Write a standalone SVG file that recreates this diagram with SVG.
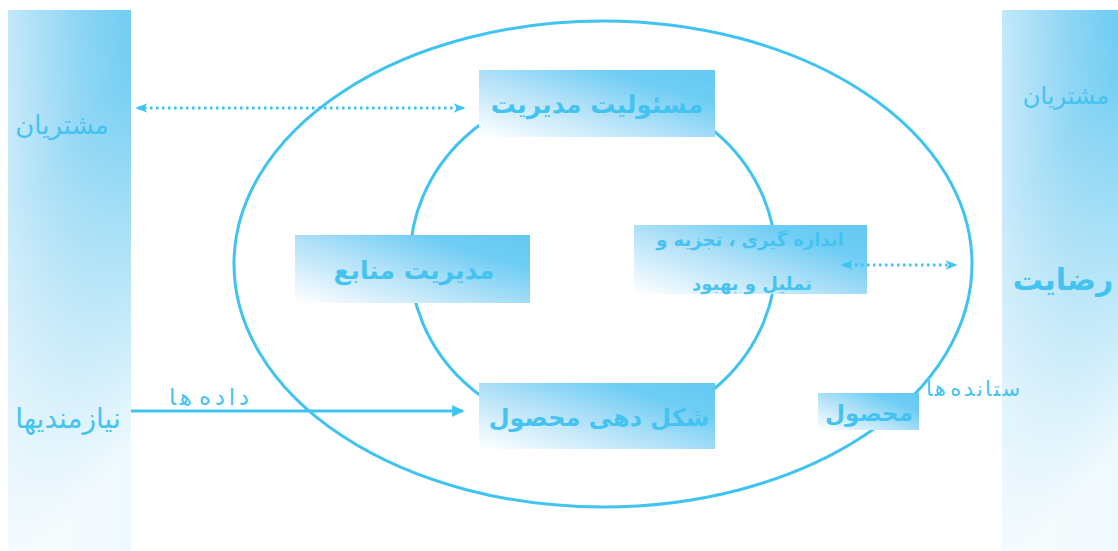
<svg xmlns="http://www.w3.org/2000/svg" width="1118" height="551" viewBox="0 0 1118 551">
<defs>
<linearGradient id="hg" x1="0" y1="0" x2="1" y2="0">
<stop offset="0" stop-color="#c4e8f9"/>
<stop offset="0.6" stop-color="#86d3f3"/>
<stop offset="1" stop-color="#66c9f2"/>
</linearGradient>
<linearGradient id="vg" x1="0" y1="0" x2="0.25" y2="1">
<stop offset="0" stop-color="#ffffff" stop-opacity="0"/>
<stop offset="0.35" stop-color="#ffffff" stop-opacity="0.1"/>
<stop offset="1" stop-color="#ffffff" stop-opacity="0.9"/>
</linearGradient>
<linearGradient id="bg" x1="0" y1="1" x2="1" y2="0.1">
<stop offset="0" stop-color="#ffffff"/>
<stop offset="0.45" stop-color="#b4e2f8"/>
<stop offset="0.8" stop-color="#6ecdf4"/>
<stop offset="1" stop-color="#66c9f2"/>
</linearGradient>
<marker id="ah" viewBox="0 0 10 10" refX="9" refY="5" markerWidth="4" markerHeight="4" orient="auto-start-reverse">
<path d="M0,0 L10,5 L0,10 z" fill="#3fc3f0"/>
</marker>
<marker id="dh" viewBox="0 0 10 10" refX="8" refY="5" markerWidth="4" markerHeight="4" orient="auto-start-reverse">
<path d="M0,1 L10,5 L0,9 L3,5 z" fill="#3fc3f0"/>
</marker>
</defs>
<style>
.bar{fill:url(#hg)}
.ov{fill:url(#vg)}
.box{fill:url(#bg)}
.ring{fill:none;stroke:#3fc3f0;stroke-width:3}
.t{font-family:"DejaVu Sans",sans-serif;fill:#45c3f0;text-anchor:middle}
.b{font-weight:bold}
.thin{font-family:"DejaVu Sans",sans-serif;fill:#45c3f0;text-anchor:middle;font-weight:normal}
.dot{stroke:#3fc3f0;stroke-width:3;stroke-dasharray:2.5 3.5;fill:none}
.sol{stroke:#3fc3f0;stroke-width:3;fill:none}
</style>
<rect width="1118" height="551" fill="#ffffff"/>
<g id="left-bar">
<rect class="bar" x="8" y="10" width="123" height="541"/>
<rect class="ov" x="8" y="10" width="123" height="541"/>
<text class="t" x="62" y="134" font-size="26">مشتریان</text>
<text class="t" x="68" y="428" font-size="28">نیازمندیها</text>
</g>
<g id="right-bar">
<rect class="bar" x="1002" y="10" width="116" height="541"/>
<rect class="ov" x="1002" y="10" width="116" height="541"/>
<text class="t" x="1066" y="104" font-size="24">مشتریان</text>
<text class="t b" x="1063" y="290" font-size="30">رضایت</text>
</g>
<g id="rings">
<ellipse class="ring" cx="603" cy="264" rx="369" ry="243"/>
<ellipse class="ring" cx="593" cy="260" rx="183" ry="172"/>
</g>
<g id="n-masuliat">
<rect class="box" x="479" y="70" width="236" height="67"/>
<text class="t b" x="597" y="113" font-size="25">مسئولیت مدیریت</text>
</g>
<g id="n-manabe">
<rect class="box" x="295" y="235" width="235" height="68"/>
<text class="t b" x="414" y="279" font-size="25">مدیریت منابع</text>
</g>
<g id="n-andaze">
<rect class="box" x="634" y="225" width="233" height="69"/>
<text class="t b" x="750" y="246" font-size="18">اندازه گیری ، تجزیه و</text>
<text class="t b" x="752" y="290" font-size="18">تملیل و بهبود</text>
</g>
<g id="n-shekl">
<rect class="box" x="479" y="383" width="236" height="66"/>
<text class="t b" x="599" y="426" font-size="24">شکل دهی محصول</text>
</g>
<g id="n-mahsul">
<rect class="box" x="818" y="393" width="101" height="37"/>
<text class="t b" x="869" y="421" font-size="23">محصول</text>
</g>
<g id="connectors">
<line class="dot" x1="138" y1="108" x2="463" y2="108" marker-start="url(#dh)" marker-end="url(#dh)"/>
<line class="dot" x1="843" y1="265" x2="955" y2="265" marker-start="url(#dh)" marker-end="url(#dh)"/>
<line class="sol" x1="131" y1="411" x2="463" y2="411" marker-end="url(#ah)"/>
<text class="thin" x="209" y="405" font-size="23" textLength="80" lengthAdjust="spacing">داده‌ها</text>
<text class="thin" x="973" y="396" font-size="21" textLength="94" lengthAdjust="spacing">ستانده‌ها</text>
</g>
</svg>
